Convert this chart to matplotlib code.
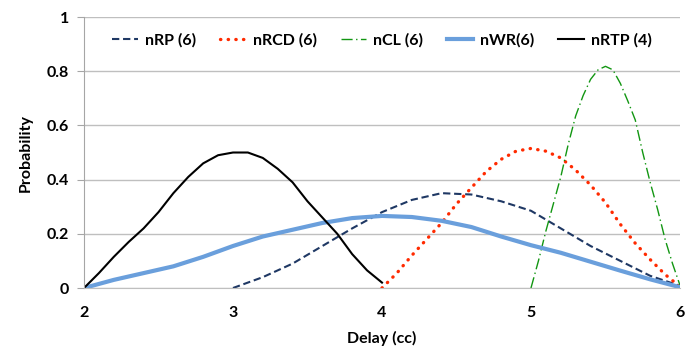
import numpy as np
import matplotlib
matplotlib.use('Agg')
import matplotlib.pyplot as plt

plt.rcParams['font.family'] = ['Lato', 'DejaVu Sans']
plt.rcParams['font.weight'] = 'bold'
n = 11.5  # font size

# nRTP (4)
x_rtp = [2.0, 2.1, 2.2, 2.3, 2.4, 2.5, 2.6, 2.7, 2.8, 2.9, 3.0,
         3.1, 3.2, 3.3, 3.4, 3.5, 3.6, 3.7, 3.8, 3.9, 4.0]
y_rtp = [0, 0.055, 0.115, 0.17, 0.22, 0.28, 0.35, 0.41, 0.46, 0.49, 0.50,
         0.50, 0.48, 0.44, 0.39, 0.32, 0.26, 0.20, 0.125, 0.065, 0.02]

# nWR(6)
x_wr = [2.0, 2.2, 2.4, 2.6, 2.8, 3.0, 3.2, 3.4, 3.6, 3.8, 4.0,
        4.2, 4.4, 4.6, 4.8, 5.0, 5.2, 5.4, 5.6, 5.8, 6.0]
y_wr = [0, 0.03, 0.055, 0.08, 0.115, 0.155, 0.19, 0.215, 0.24, 0.258, 0.266,
        0.262, 0.248, 0.225, 0.19, 0.158, 0.13, 0.097, 0.064, 0.032, 0.003]

# nRP (6)
x_rp = [3.0, 3.2, 3.4, 3.6, 3.8, 4.0, 4.2, 4.4, 4.6, 4.8, 5.0,
        5.2, 5.4, 5.6, 5.8, 6.0]
y_rp = [0, 0.04, 0.09, 0.155, 0.22, 0.28, 0.325, 0.35, 0.345, 0.32, 0.285,
        0.22, 0.155, 0.10, 0.045, 0.008]

# nRCD (6)
x_rcd = [4.0, 4.1, 4.2, 4.3, 4.4, 4.5, 4.6, 4.7, 4.8, 4.9, 5.0,
         5.1, 5.2, 5.3, 5.4, 5.5, 5.6, 5.7, 5.8, 5.9, 6.0]
y_rcd = [0, 0.055, 0.12, 0.18, 0.24, 0.31, 0.37, 0.43, 0.475, 0.505, 0.515,
         0.505, 0.48, 0.435, 0.38, 0.315, 0.235, 0.165, 0.105, 0.05, 0.005]

# nCL (6)
x_cl = [5.0, 5.05, 5.1, 5.15, 5.2, 5.25, 5.3, 5.35, 5.4, 5.45, 5.5,
        5.55, 5.6, 5.65, 5.7, 5.75, 5.8, 5.85, 5.9, 5.95, 6.0]
y_cl = [0, 0.10, 0.21, 0.31, 0.41, 0.53, 0.635, 0.71, 0.77, 0.805, 0.818,
        0.805, 0.755, 0.69, 0.62, 0.50, 0.39, 0.29, 0.18, 0.09, 0.01]

xticks = [2, 3, 4, 5, 6]
yticks = [0, 0.2, 0.4, 0.6, 0.8, 1]
ylabels = ['0', '0.2', '0.4', '0.6', '0.8', '1']

fig = plt.figure(figsize=(6.93, 3.48), dpi=100)
ax = fig.add_axes([0.1212, 0.1724, 0.86, 0.7787])

ax.plot(x_rp, y_rp, color='#1f3864', linestyle=(0, (3.5, 1.8)), linewidth=1.5, label='nRP (6)')
ax.plot(x_rcd, y_rcd, color='#ff2a00', linestyle=(0, (0.1, 2.2)), linewidth=2.4,
        dash_capstyle='round', label='nRCD (6)')
ax.plot(x_cl, y_cl, color='#129612', linestyle=(0, (8, 2.5, 1, 2.5)), linewidth=1.0, label='nCL (6)')
ax.plot(x_wr, y_wr, color='#6a9fdc', linewidth=3.0, label='nWR(6)')
ax.plot(x_rtp, y_rtp, color='black', linewidth=1.5, label='nRTP (4)')

ax.set_xlim(2, 6)
ax.set_ylim(0, 1)
ax.set_xticks(xticks)
ax.set_yticks(yticks)
ax.set_yticklabels(ylabels)
ax.grid(axis='y', color='#bfbfbf', linewidth=1.0)
ax.set_axisbelow(True)
for s in ['top', 'right']:
    ax.spines[s].set_visible(False)
ax.spines['left'].set_color('#a6a6a6')
ax.spines['bottom'].set_color('#bfbfbf')
ax.tick_params(axis='y', length=5, color='#a6a6a6', labelsize=n, pad=6)
ax.tick_params(axis='x', length=0, labelsize=n, pad=13)

ax.set_xlabel('Delay (cc)', fontsize=n, fontweight='bold', labelpad=8)
ax.set_ylabel('Probability', fontsize=n, fontweight='bold', labelpad=10)

ax.legend(loc='upper center', bbox_to_anchor=(0.5, 0.995), ncol=5, frameon=False,
          fontsize=n, handlelength=1.6, columnspacing=1.5, handletextpad=0.45)

fig.savefig('out.png', dpi=100)
